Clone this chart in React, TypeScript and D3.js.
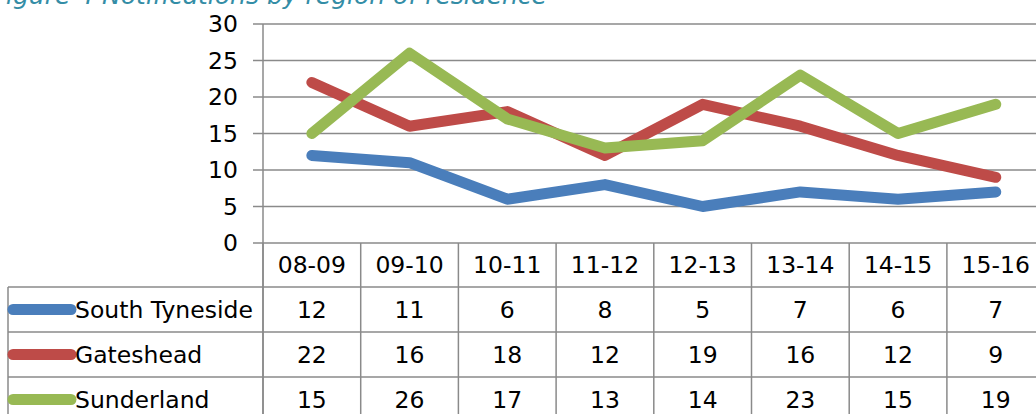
import React from 'react';
import * as d3 from 'd3';

// chart data
const categories = ['08-09', '09-10', '10-11', '11-12', '12-13', '13-14', '14-15', '15-16'];
const seriesNames = ['South Tyneside', 'Gateshead', 'Sunderland'];
const southTyneside = [12, 11, 6, 8, 5, 7, 6, 7];
const gateshead = [22, 16, 18, 12, 19, 16, 12, 9];
const sunderland = [15, 26, 17, 13, 14, 23, 15, 19];
const yTicks = [0, 5, 10, 15, 20, 25, 30];

const seriesValues = [southTyneside, gateshead, sunderland];
const colors = ['#4A7EBB', '#BE4B48', '#98B954'];

const FONT = '"DejaVu Sans", sans-serif';
const GRID = '#8a8a8a';
const FS = 23.5;

export default function App() {
  const width = 1036, height = 414;
  const plotLeft = 263, colW = 97.7;
  const tableLeft = 8;

  // scales
  const x = d3.scaleBand<string>()
    .domain(categories)
    .range([plotLeft, plotLeft + colW * categories.length]);
  const y = d3.scaleLinear().domain([0, 30]).range([243, 24]);
  const headerBottom = 287;
  const row = d3.scaleBand<string>()
    .domain(seriesNames)
    .range([headerBottom, headerBottom + 45 * seriesNames.length]);

  const line = d3.line<number>()
    .x((_, i) => (x(categories[i]) as number) + x.bandwidth() / 2)
    .y(d => y(d));

  const tableRight = plotLeft + colW * categories.length;
  const colEdges = d3.range(categories.length + 1).map(i => plotLeft + i * colW);

  return (
    <svg width={width} height={height} style={{ position: 'absolute', left: 0, top: 0, background: '#fff' }}
      fontFamily={FONT}>
      {/* title, partly cut off at the top as in the source */}
      <text x={547} y={4} textAnchor="end" fontSize={25} fontStyle="italic" fill="#348DA6">
        Figure 4 Notifications by region of residence
      </text>

      {/* gridlines and y ticks */}
      {yTicks.map(t => (
        <g key={t}>
          <line x1={plotLeft - 10} x2={tableRight} y1={y(t)} y2={y(t)} stroke={GRID} strokeWidth={1.5} />
          <text x={238} y={y(t)} dy="0.36em" textAnchor="end" fontSize={FS} fill="#000">{t}</text>
        </g>
      ))}
      {/* y axis */}
      <line x1={plotLeft} x2={plotLeft} y1={y(30)} y2={row.range()[1]} stroke={GRID} strokeWidth={1.5} />

      {/* series lines */}
      {seriesValues.map((vals, i) => (
        <path key={seriesNames[i]} d={line(vals) || ''} fill="none" stroke={colors[i]}
          strokeWidth={11} strokeLinecap="round" strokeLinejoin="round" />
      ))}

      {/* data table */}
      {colEdges.map((cx, i) => (
        <line key={'v' + i} x1={cx} x2={cx} y1={y(0)} y2={row.range()[1]} stroke={GRID} strokeWidth={1.5} />
      ))}
      <line x1={tableLeft} x2={tableLeft} y1={headerBottom} y2={row.range()[1]} stroke={GRID} strokeWidth={1.5} />
      {[headerBottom, ...seriesNames.map(s => (row(s) as number) + row.bandwidth())].map((ry, i) => (
        <line key={'h' + i} x1={tableLeft} x2={tableRight} y1={ry} y2={ry} stroke={GRID} strokeWidth={1.5} />
      ))}

      {categories.map(c => (
        <text key={c} x={(x(c) as number) + x.bandwidth() / 2} y={(y(0) + headerBottom) / 2} dy="0.36em"
          textAnchor="middle" fontSize={FS} fill="#000">{c}</text>
      ))}

      {seriesNames.map((s, i) => {
        const cy = (row(s) as number) + row.bandwidth() / 2;
        return (
          <g key={s}>
            <line x1={13} x2={71} y1={cy} y2={cy} stroke={colors[i]} strokeWidth={11} strokeLinecap="round" />
            <text x={75} y={cy} dy="0.36em" fontSize={FS} fill="#000">{s}</text>
            {seriesValues[i].map((v, j) => (
              <text key={j} x={(x(categories[j]) as number) + x.bandwidth() / 2} y={cy} dy="0.36em"
                textAnchor="middle" fontSize={FS} fill="#000">{v}</text>
            ))}
          </g>
        );
      })}
    </svg>
  );
}
